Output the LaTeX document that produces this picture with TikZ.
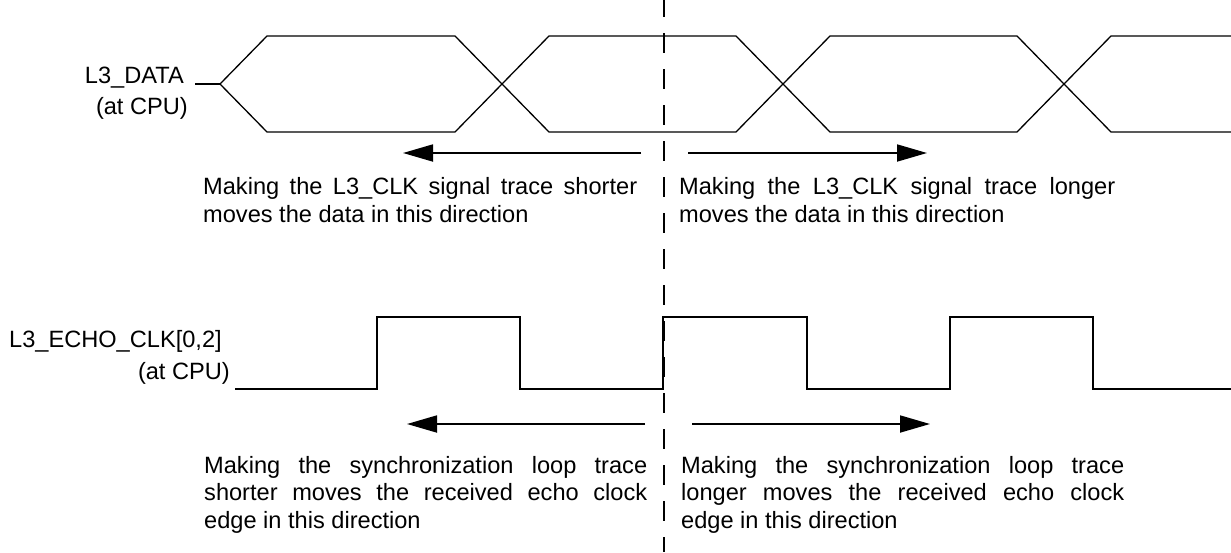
\documentclass[tikz,border=0pt]{standalone}
\usepackage{fontspec}
\setmainfont{Liberation Sans}
\usetikzlibrary{arrows.meta}
\begin{document}
\begin{tikzpicture}[x=1pt,y=-1pt,
  lbl/.style={inner sep=0pt, font=\fontsize{23.6}{28}\selectfont},
  wave/.style={line width=1.3pt, line join=miter},
  stub/.style={line width=2pt},
  clk/.style={line width=2.2pt, line join=miter},
  move/.style={line width=1.8pt, -{Triangle[length=30pt,width=17pt]}},
  refline/.style={line width=2pt, dash pattern=on 20pt off 16pt, dash phase=3pt}
]
\useasboundingbox (0,0) rectangle (1231,552);

% ---------- L3_DATA eye pattern ----------
\node[lbl, anchor=base east] (datalbl) at (184,83) {L3\_DATA};
\node[lbl, anchor=base east] (datacpu) at (188,114) {(at CPU)};
\coordinate (stubA) at (195,84);
\coordinate (tip) at (219.5,84);
\draw[stub] (stubA) -- (tip);
\draw[wave] (220,84) -- (267,36) -- (455,36) -- (549,132) -- (736,132)
  -- (830,36) -- (1017,36) -- (1111,132) -- (1231,132);
\draw[wave] (220,84) -- (267,132) -- (455,132) -- (549,36) -- (736,36)
  -- (830,132) -- (1017,132) -- (1111,36) -- (1231,36);

% ---------- reference edge ----------
\coordinate (reftop) at (664,0);
\coordinate (refbot) at (664,552);
\draw[refline] (reftop) -- (refbot);

% ---------- data arrows and notes ----------
\coordinate (dl0) at (641,153);
\coordinate (dl1) at (403,153);
\coordinate (dr0) at (688,153);
\coordinate (dr1) at (927,153);
\draw[move] (dl0) -- (dl1);
\draw[move] (dr0) -- (dr1);

\node[lbl, anchor=base west] (dnoteL1) at (203,194)
  {\makebox[434pt][s]{Making the L3\_CLK signal trace shorter}};
\node[lbl, anchor=base west] (dnoteL2) at (203,222) {moves the data in this direction};
\node[lbl, anchor=base west] (dnoteR1) at (679,194)
  {\makebox[436pt][s]{Making the L3\_CLK signal trace longer}};
\node[lbl, anchor=base west] (dnoteR2) at (679,222) {moves the data in this direction};

% ---------- L3_ECHO_CLK waveform ----------
\node[lbl, anchor=base west] (clklbl) at (9,347) {L3\_ECHO\_CLK[0,2]};
\node[lbl, anchor=base east] (clkcpu) at (230,379) {(at CPU)};
\draw[clk] (235,389) -- (377,389) -- (377,317) -- (520,317) -- (520,389)
  -- (663,389) -- (663,317) -- (807,317) -- (807,389) -- (950,389)
  -- (950,317) -- (1093,317) -- (1093,389) -- (1231,389);

% ---------- clock arrows and notes ----------
\coordinate (cl0) at (645,424);
\coordinate (cl1) at (407,424);
\coordinate (cr0) at (692,424);
\coordinate (cr1) at (930,424);
\draw[move] (cl0) -- (cl1);
\draw[move] (cr0) -- (cr1);

\node[lbl, anchor=base west] (cnoteL1) at (204,473)
  {\makebox[443pt][s]{Making the synchronization loop trace}};
\node[lbl, anchor=base west] (cnoteL2) at (204,500.5)
  {\makebox[443pt][s]{shorter moves the received echo clock}};
\node[lbl, anchor=base west] (cnoteL3) at (204,528) {edge in this direction};
\node[lbl, anchor=base west] (cnoteR1) at (681,473)
  {\makebox[443pt][s]{Making the synchronization loop trace}};
\node[lbl, anchor=base west] (cnoteR2) at (681,500.5)
  {\makebox[443pt][s]{longer moves the received echo clock}};
\node[lbl, anchor=base west] (cnoteR3) at (681,528) {edge in this direction};
\end{tikzpicture}
\end{document}
